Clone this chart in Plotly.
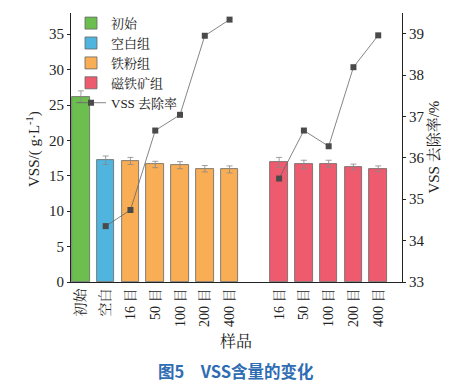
import plotly.graph_objects as go

# Data
tick_labels = ["初始", "空白", "16 目", "50 目", "100 目", "200 目", "400 目", " ",
               "16 目", "50 目", "100 目", "200 目", "400 目"]
groups = ["初始", "空白组", "铁粉组", "磁铁矿组"]
group_idx = [[0], [1], [2, 3, 4, 5, 6], [8, 9, 10, 11, 12]]
vss_init = [26.2]
vss_blank = [17.2]
vss_iron = [17.1, 16.6, 16.5, 16.0, 15.9]
vss_mag = [16.9, 16.6, 16.7, 16.25, 16.0]
err_init = [0.8]
err_blank = [0.6]
err_iron = [0.5, 0.45, 0.5, 0.45, 0.5]
err_mag = [0.7, 0.6, 0.5, 0.4, 0.4]
rate_x = [1, 2, 3, 4, 5, 6, 7, 8, 9, 10, 11, 12]
rate = [34.35, 34.74, 36.66, 37.04, 38.95, 39.34, None, 35.5, 36.66, 36.28, 38.19, 38.96]

colors = ["#6cbf4e", "#4fb5df", "#f9ae55", "#ee5b6e"]
vals = [vss_init, vss_blank, vss_iron, vss_mag]
errs = [err_init, err_blank, err_iron, err_mag]

serif = "Liberation Serif, Noto Serif CJK SC, Noto Sans CJK SC, serif"

fig = go.Figure()
for name, xs, v, e, c in zip(groups, group_idx, vals, errs, colors):
    fig.add_trace(go.Bar(
        x=xs, y=v, name=name, width=0.71,
        marker=dict(color=c, line=dict(color="#666666", width=0.8)),
        error_y=dict(type="data", array=e, color="#888888", thickness=0.8, width=3),
    ))
fig.add_trace(go.Scatter(
    x=rate_x, y=rate, name="VSS 去除率", yaxis="y2", mode="lines+markers",
    connectgaps=False,
    line=dict(color="#666666", width=0.8),
    marker=dict(symbol="square", size=6, color="#4a4a4a"),
))

# page body adds an 8px offset, so the figure is sized/margined to compensate
fig.update_layout(
    width=467, height=380,
    margin=dict(l=63, r=73, t=5, b=106, autoexpand=False),
    paper_bgcolor="white", plot_bgcolor="white",
    font=dict(family=serif, size=15, color="#222222"),
    bargap=0,
    xaxis=dict(
        range=[-0.4, 12.96], tickmode="array", tickvals=list(range(13)),
        ticktext=tick_labels, tickangle=-90, showline=True, linecolor="#222222",
        linewidth=1, ticks="", showgrid=False, zeroline=False, automargin=False,
        tickfont=dict(size=14),
    ),
    yaxis=dict(
        range=[0, 38], tickvals=[0, 5, 10, 15, 20, 25, 30, 35],
        showline=True, linecolor="#222222", linewidth=1, ticks="outside",
        ticklen=3, tickcolor="#222222", showgrid=False, zeroline=False,
        automargin=False,
    ),
    yaxis2=dict(
        range=[33, 39.5], tickvals=[33, 34, 35, 36, 37, 38, 39],
        overlaying="y", side="right", showline=True, linecolor="#222222",
        linewidth=1, ticks="outside", ticklen=3, tickcolor="#222222",
        showgrid=False, zeroline=False, automargin=False,
    ),
    legend=dict(
        x=0.0, y=1.018, xanchor="left", yanchor="top",
        bgcolor="rgba(0,0,0,0)", font=dict(size=13), tracegroupgap=0,
        itemwidth=30,
    ),
    showlegend=True,
)

# axis titles as annotations
fig.add_annotation(text="VSS/( g·L<sup>-1</sup>)", xref="paper", yref="paper",
                   x=-0.115, y=0.494, textangle=-90, showarrow=False,
                   xanchor="center", yanchor="middle", font=dict(size=15))
fig.add_annotation(text="VSS 去除率/%", xref="paper", yref="paper",
                   x=1.094, y=0.50, textangle=-90, showarrow=False,
                   xanchor="center", yanchor="middle", font=dict(size=15))
fig.add_annotation(text="样品", xref="paper", yref="paper",
                   x=0.497, y=-0.222, showarrow=False,
                   xanchor="center", yanchor="middle", font=dict(size=16))
fig.add_annotation(
    text="<b>图5　VSS含量的变化</b>", xref="paper", yref="paper",
    x=0.497, y=-0.33, xanchor="center", yanchor="middle", showarrow=False,
    font=dict(family="Noto Sans CJK SC, sans-serif", size=16.5, color="#2f6db3"),
)

fig.write_html("out.html")
